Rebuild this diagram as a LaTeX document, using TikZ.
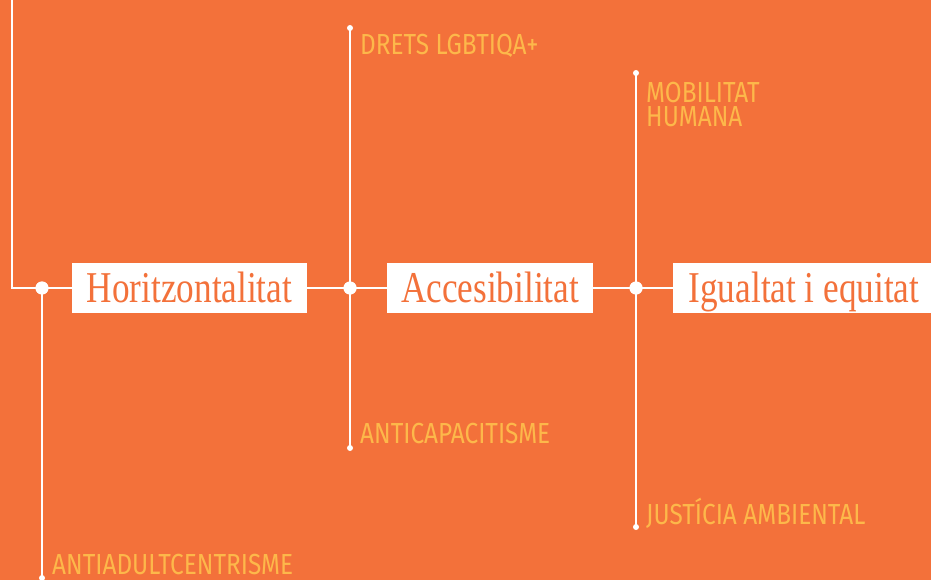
\documentclass[tikz,border=0pt]{standalone}
\usepackage{fontspec}
\newfontfamily\labelfont[FakeStretch=0.84]{Fira Sans}
\newfontfamily\boxfont[FakeStretch=0.8]{Liberation Serif}
\definecolor{bgorange}{HTML}{F3713A}
\definecolor{labelyellow}{HTML}{FDB84A}
\tikzset{
  mainline/.style={draw=white, line width=2pt},
  branch/.style={draw=white, line width=1.5pt},
  bigdot/.style={circle, fill=white, inner sep=0pt, minimum size=13pt},
  smalldot/.style={circle, fill=white, inner sep=0pt, minimum size=6pt},
  valuebox/.style={rectangle, fill=white, inner sep=0pt, minimum height=50pt,
    text height=29pt, text depth=0pt, font=\boxfont\fontsize{44}{44}\selectfont, text=bgorange},
  tag/.style={anchor=base west, inner sep=0pt, text=labelyellow,
    font=\labelfont\fontsize{29}{23.5}\selectfont, align=left}
}
\begin{document}
\begin{tikzpicture}[x=1pt,y=-1pt]
\fill[bgorange] (0,0) rectangle (931,580);
\useasboundingbox (0,0) rectangle (931,580);
% coordinates
\coordinate (tl) at (12,-2);
\coordinate (re) at (935,288);
% dots
\node[bigdot] (d1) at (42,288) {};
\node[bigdot] (d2) at (350,288) {};
\node[bigdot] (d3) at (636,288) {};
\node[smalldot] (b1) at (42,578) {};
\node[smalldot] (t2) at (350,28) {};
\node[smalldot] (b2) at (350,448) {};
\node[smalldot] (t3) at (636,73) {};
\node[smalldot] (b3) at (636,527) {};
% lines
\draw[mainline] (tl) |- (d1.center) -- (d2.center) -- (d3.center) -- (re);
\draw[branch] (d1.center) -- (b1.center);
\draw[branch] (t2.center) -- (b2.center);
\draw[branch] (t3.center) -- (b3.center);
% boxes
\node[valuebox, minimum width=235pt] (h) at (189.5,288) {Horitzontalitat};
\node[valuebox, minimum width=206pt] (a) at (490,288) {Accesibilitat};
\node[valuebox, minimum width=262pt] (i) at (804,288) {Igualtat i equitat};
% redraw dots on top
\node[bigdot] at (d1) {};
\node[bigdot] at (d2) {};
\node[bigdot] at (d3) {};
% labels
\node[tag] (l1) at (360,55) {DRETS LGBTIQA+};
\node[tag] (l2) at (646,126.5) {MOBILITAT\\HUMANA};
\node[tag] (l3) at (360,443) {ANTICAPACITISME};
\node[tag] (l4) at (646,524) {JUSTÍCIA AMBIENTAL};
\node[tag] (l5) at (52,574) {ANTIADULTCENTRISME};
\end{tikzpicture}
\end{document}
